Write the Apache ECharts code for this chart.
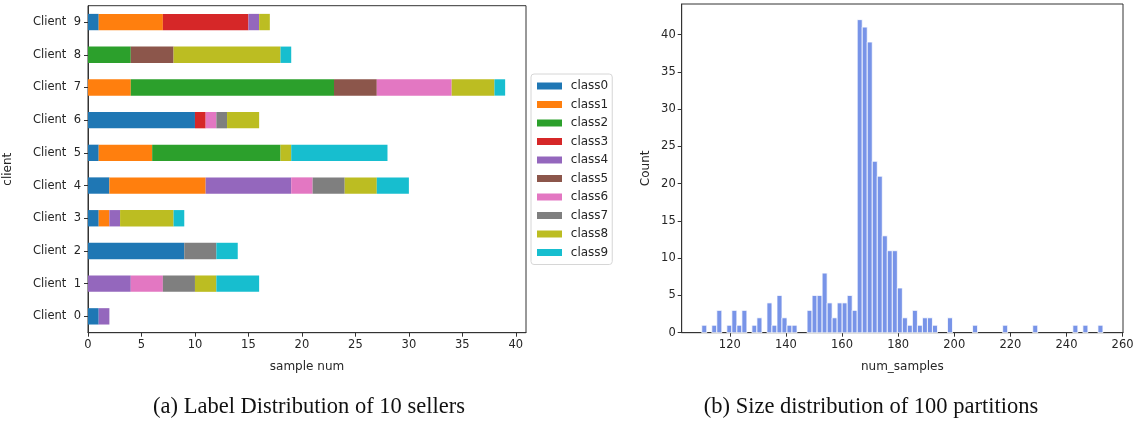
<!DOCTYPE html>
<html>
<head>
<meta charset="utf-8">
<script src="https://cdn.jsdelivr.net/npm/echarts@6/dist/echarts.min.js"></script>
<style>
  html, body { margin: 0; padding: 0; background: #fff; }
  #chart { width: 1141px; height: 421px; }
</style>
</head>
<body>
<div id="chart"></div>
<script>
// Per-client label counts (client 0 .. client 9)
const clients = ['Client  0', 'Client  1', 'Client  2', 'Client  3', 'Client  4',
                 'Client  5', 'Client  6', 'Client  7', 'Client  8', 'Client  9'];
const class0 = [1, 0, 9, 1, 2, 1, 10, 0, 0, 1];
const class1 = [0, 0, 0, 1, 9, 5, 0, 4, 0, 6];
const class2 = [0, 0, 0, 0, 0, 12, 0, 19, 4, 0];
const class3 = [0, 0, 0, 0, 0, 0, 1, 0, 0, 8];
const class4 = [1, 4, 0, 1, 8, 0, 0, 0, 0, 1];
const class5 = [0, 0, 0, 0, 0, 0, 0, 4, 4, 0];
const class6 = [0, 3, 0, 0, 2, 0, 1, 7, 0, 0];
const class7 = [0, 3, 3, 0, 3, 0, 1, 0, 0, 0];
const class8 = [0, 2, 0, 5, 3, 1, 3, 4, 10, 1];
const class9 = [0, 4, 2, 1, 3, 9, 0, 1, 1, 0];
const classNames = ['class0', 'class1', 'class2', 'class3', 'class4',
                    'class5', 'class6', 'class7', 'class8', 'class9'];
const classValues = [class0, class1, class2, class3, class4,
                     class5, class6, class7, class8, class9];
const sampleTicks = [0, 5, 10, 15, 20, 25, 30, 35, 40];

// Partition-size histogram: 80 equal bins between the smallest and largest size
const sizeMin = 110;
const sizeMax = 253;
const binCounts = [
  1, 0, 1, 3, 0, 1, 3, 1, 3, 0,
  1, 2, 0, 4, 1, 5, 2, 1, 1, 0,
  0, 3, 5, 5, 8, 4, 2, 4, 4, 5,
  3, 42, 41, 39, 23, 21, 13, 11, 11, 6,
  2, 1, 3, 1, 2, 2, 1, 0, 0, 2,
  0, 0, 0, 0, 1, 0, 0, 0, 0, 0,
  1, 0, 0, 0, 0, 0, 1, 0, 0, 0,
  0, 0, 0, 0, 1, 0, 1, 0, 0, 1
];
const sizeTicks = [120, 140, 160, 180, 200, 220, 240, 260];
const countTicks = [0, 5, 10, 15, 20, 25, 30, 35, 40];

const tab10 = ['#1f77b4', '#ff7f0e', '#2ca02c', '#d62728', '#9467bd',
               '#8c564b', '#e377c2', '#7f7f7f', '#bcbd22', '#17becf'];

const binWidth = (sizeMax - sizeMin) / binCounts.length;
const histData = [];
binCounts.forEach((c, i) => {
  if (c > 0) histData.push([sizeMin + i * binWidth, sizeMin + (i + 1) * binWidth, c]);
});
const sizePad = (sizeMax - sizeMin) * 0.05;

const tickFont = { fontFamily: 'DejaVu Sans', fontSize: 11.5, color: '#262626' };
const nameFont = { fontFamily: 'DejaVu Sans', fontSize: 12, color: '#262626' };
const axisLine = { show: true, lineStyle: { color: '#333', width: 1 } };
const axisTick = { show: true, inside: false, length: 4, lineStyle: { color: '#333', width: 1 } };

const chart = echarts.init(document.getElementById('chart'), null, { renderer: 'canvas' });

const barSeries = classNames.map((name, k) => ({
  name: name,
  type: 'bar',
  stack: 'clients',
  xAxisIndex: 0,
  yAxisIndex: 0,
  barWidth: '50%',
  itemStyle: { color: tab10[k] },
  emphasis: { disabled: true },
  data: classValues[k]
}));

chart.setOption({
  animation: false,
  grid: [
    { left: 88, top: 5.7, width: 438, height: 327, show: true,
      borderColor: '#333', borderWidth: 1, backgroundColor: 'transparent' },
    { left: 681.7, top: 4, width: 441.3, height: 328.7, show: true,
      borderColor: '#333', borderWidth: 1, backgroundColor: 'transparent' }
  ],
  legend: {
    orient: 'vertical',
    left: 531,
    top: 74,
    data: classNames,
    icon: 'rect',
    itemWidth: 25,
    itemHeight: 7,
    itemGap: 6.5,
    padding: [6, 4, 6, 6],
    borderColor: '#d6d6d6',
    borderWidth: 1,
    borderRadius: 3,
    formatter: function (name) { return ' ' + name; },
    textStyle: { fontFamily: 'DejaVu Sans', fontSize: 12, color: '#262626', lineHeight: 12 },
    selectedMode: false
  },
  xAxis: [
    {
      gridIndex: 0, type: 'value', min: 0, max: 40.95,
      name: 'sample num', nameLocation: 'middle', nameGap: 28,
      nameTextStyle: nameFont,
      axisLine: axisLine, axisTick: Object.assign({ customValues: sampleTicks }, axisTick),
      axisLabel: Object.assign({ customValues: sampleTicks, margin: 6 }, tickFont),
      splitLine: { show: false }
    },
    {
      gridIndex: 1, type: 'value', min: sizeMin - sizePad, max: sizeMax + sizePad,
      name: 'num_samples', nameLocation: 'middle', nameGap: 28,
      nameTextStyle: nameFont,
      axisLine: axisLine, axisTick: Object.assign({ customValues: sizeTicks }, axisTick),
      axisLabel: Object.assign({ customValues: sizeTicks, margin: 6 }, tickFont),
      splitLine: { show: false }
    }
  ],
  yAxis: [
    {
      gridIndex: 0, type: 'category', data: clients,
      name: 'client', nameLocation: 'middle', nameGap: 74, nameRotate: 90,
      nameTextStyle: nameFont,
      axisLine: axisLine,
      axisTick: Object.assign({ alignWithLabel: true }, axisTick),
      axisLabel: Object.assign({ margin: 7 }, tickFont),
      splitLine: { show: false }
    },
    {
      gridIndex: 1, type: 'value', min: 0, max: 44.1,
      name: 'Count', nameLocation: 'middle', nameGap: 30, nameRotate: 90,
      nameTextStyle: nameFont,
      axisLine: axisLine, axisTick: Object.assign({ customValues: countTicks }, axisTick),
      axisLabel: Object.assign({ customValues: countTicks, margin: 6 }, tickFont),
      splitLine: { show: false }
    }
  ],
  series: barSeries.concat([
    {
      name: 'num_samples',
      type: 'custom',
      xAxisIndex: 1,
      yAxisIndex: 1,
      data: histData,
      encode: { x: [0, 1], y: 2 },
      renderItem: function (params, api) {
        const p0 = api.coord([api.value(0), api.value(2)]);
        const p1 = api.coord([api.value(1), 0]);
        return {
          type: 'rect',
          shape: { x: p0[0], y: p0[1], width: p1[0] - p0[0], height: p1[1] - p0[1] },
          style: { fill: '#7894e8', stroke: '#ffffff', lineWidth: 0.8 }
        };
      }
    }
  ]),
  graphic: [
    { type: 'text', x: 309, y: 407,
      style: { text: '(a) Label Distribution of 10 sellers', align: 'center', verticalAlign: 'middle',
               font: '22.5px "Liberation Serif"', fill: '#111' } },
    { type: 'text', x: 871, y: 407,
      style: { text: '(b) Size distribution of 100 partitions', align: 'center', verticalAlign: 'middle',
               font: '22.5px "Liberation Serif"', fill: '#111' } }
  ]
});
</script>
</body>
</html>
